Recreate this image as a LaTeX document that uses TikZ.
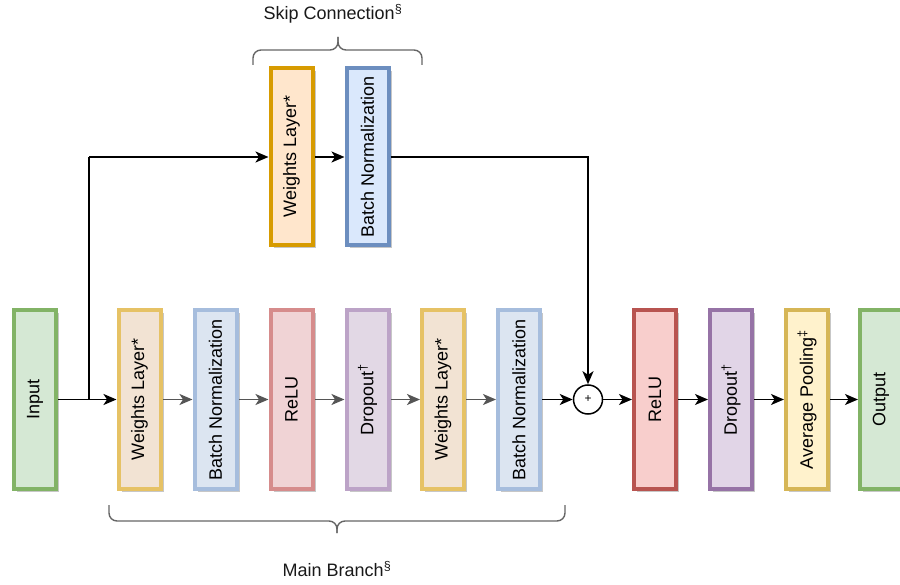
\documentclass[tikz,border=0pt]{standalone}
\usepackage{fontspec}
\setmainfont{Liberation Sans}
\usetikzlibrary{arrows.meta,shadows}
\definecolor{grF}{HTML}{D5E8D4}\definecolor{grS}{HTML}{82B366}
\definecolor{orF}{HTML}{FFE6CC}\definecolor{orS}{HTML}{D79B00}
\definecolor{blF}{HTML}{DAE8FC}\definecolor{blS}{HTML}{6C8EBF}
\definecolor{rdF}{HTML}{F8CECC}\definecolor{rdS}{HTML}{B85450}
\definecolor{puF}{HTML}{E1D5E7}\definecolor{puS}{HTML}{9673A6}
\definecolor{yeF}{HTML}{FFF2CC}\definecolor{yeS}{HTML}{D6B656}
\definecolor{mwF}{HTML}{F2E3D3}\definecolor{mwS}{HTML}{E6C265}
\definecolor{mbF}{HTML}{DCE5F1}\definecolor{mbS}{HTML}{A6BDDD}
\definecolor{mrF}{HTML}{F0D3D5}\definecolor{mrS}{HTML}{D68C8C}
\definecolor{mpF}{HTML}{E2D8E5}\definecolor{mpS}{HTML}{BCA3C7}
\definecolor{braceC}{HTML}{666666}
\definecolor{fadeA}{HTML}{555555}
\tikzset{
  layer/.style={draw, line width=4pt, minimum width=42pt, minimum height=179pt,
    inner sep=0pt, font=\fontsize{18}{21}\selectfont,
    drop shadow={shadow xshift=3pt, shadow yshift=-3pt, opacity=0.22, fill=black}},
  arr/.style={line width=1.8pt, -{Stealth[length=13pt,width=11pt,inset=3.5pt]}},
  farr/.style={arr, draw=fadeA},
  bracestyle/.style={draw=braceC, line width=1.4pt, rounded corners=8pt},
  lbl/.style={font=\fontsize{18}{21}\selectfont, text=black!90},
}
\newcommand{\rot}[1]{\rotatebox{90}{#1}}
\begin{document}
\begin{tikzpicture}[x=1pt,y=-1pt]
\useasboundingbox (0,0) rectangle (900,585);
% main row
\node[layer, fill=grF, draw=grS] (in) at (35,399.5) {\rot{Input}};
\node[layer, fill=mwF, draw=mwS] (m1) at (139.5,399.5) {\rot{Weights Layer*}};
\node[layer, fill=mbF, draw=mbS] (m2) at (215.5,399.5) {\rot{Batch Normalization}};
\node[layer, fill=mrF, draw=mrS] (m3) at (291.5,399.5) {\rot{ReLU}};
\node[layer, fill=mpF, draw=mpS] (m4) at (367.5,399.5) {\rot{Dropout\textsuperscript{\dag}}};
\node[layer, fill=mwF, draw=mwS] (m5) at (443,399.5) {\rot{Weights Layer*}};
\node[layer, fill=mbF, draw=mbS] (m6) at (519,399.5) {\rot{Batch Normalization}};
\node[draw, circle, line width=1.5pt, minimum size=29pt, inner sep=0pt, font=\fontsize{12}{13}\selectfont] (add) at (588,399.5) {+};
\node[layer, fill=rdF, draw=rdS] (r1) at (655,399.5) {\rot{ReLU}};
\node[layer, fill=puF, draw=puS] (r2) at (731,399.5) {\rot{Dropout\textsuperscript{\dag}}};
\node[layer, fill=yeF, draw=yeS] (r3) at (807,399.5) {\rot{Average Pooling\textsuperscript{\ddag}}};
\node[layer, fill=grF, draw=grS] (out) at (881,399.5) {\rot{Output}};
% skip row
\node[layer, fill=orF, draw=orS, minimum height=177pt] (s1) at (291.5,156.5) {\rot{Weights Layer*}};
\node[layer, fill=blF, draw=blS, minimum height=177pt] (s2) at (367.5,156.5) {\rot{Batch Normalization}};
% connectors
\coordinate (br) at (89,399.5);
\coordinate (bt) at (89,157);
\coordinate (ct) at (588,157);
\draw[arr] (in.east) -- (m1.west);
\draw[line width=1.8pt] (br) -- (bt);
\draw[arr] (bt) -- (s1.west |- bt);
\draw[arr] (s1.east |- bt) -- (s2.west |- bt);
\draw[arr] (s2.east |- ct) -- (ct) -- (add.north);
\draw[farr] (m1.east) -- (m2.west);
\draw[farr] (m2.east) -- (m3.west);
\draw[farr] (m3.east) -- (m4.west);
\draw[farr] (m4.east) -- (m5.west);
\draw[farr] (m5.east) -- (m6.west);
\draw[arr] (m6.east) -- (add.west);
\draw[arr] (add.east) -- (r1.west);
\draw[arr] (r1.east) -- (r2.west);
\draw[arr] (r2.east) -- (r3.west);
\draw[arr] (r3.east) -- (out.west);
% braces
\coordinate (tbL) at (253,65); \coordinate (tbR) at (422,65); \coordinate (tbT) at (338,37);
\draw[bracestyle] (tbL) -- (253,50) -- (338,50) -- (tbT);
\draw[bracestyle] (tbR) -- (422,50) -- (338,50) -- (tbT);
\coordinate (bbL) at (109,505); \coordinate (bbR) at (565,505); \coordinate (bbT) at (337,533);
\draw[bracestyle] (bbL) -- (109,521) -- (337,521) -- (bbT);
\draw[bracestyle] (bbR) -- (565,521) -- (337,521) -- (bbT);
\node[lbl] (skiplbl) at (333,14) {Skip Connection\textsuperscript{\S}};
\node[lbl] (mainlbl) at (337,569) {Main Branch\textsuperscript{\S}};
\end{tikzpicture}
\end{document}
